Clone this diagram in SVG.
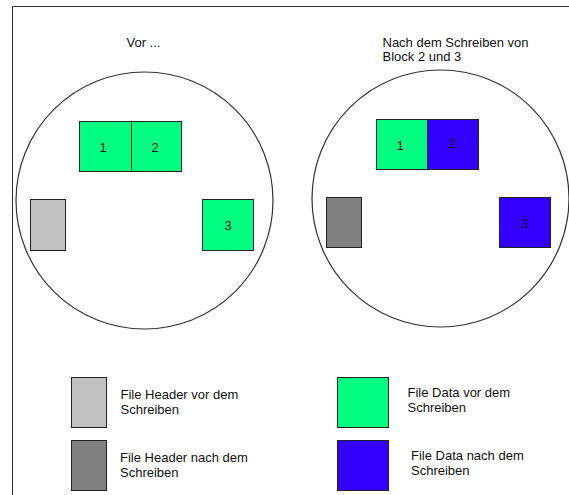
<svg xmlns="http://www.w3.org/2000/svg" width="569" height="495" viewBox="0 0 569 495">
<style>
text{font-family:"Liberation Sans",Arial,sans-serif;font-size:13px;fill:#111}
.num{text-anchor:middle}
.disk{fill:none;stroke:#333;stroke-width:1.2}
.blk{stroke:#222;stroke-width:1}
.g{fill:#00FF80}
.b{fill:#3300FF}
.lg{fill:#C0C0C0}
.dg{fill:#808080}
</style>
<rect width="569" height="495" fill="#fff"/>
<path d="M12.5,495 V6.5 H569" fill="none" stroke="#333" stroke-width="1"/>
<g id="before">
<text x="126.5" y="47">Vor ...</text>
<circle class="disk" cx="144.5" cy="200.5" r="128.5"/>
<g id="before-block1"><rect class="blk g" x="79.5" y="121.5" width="52" height="50"/><text class="num" x="103" y="152">1</text></g>
<g id="before-block2"><rect class="blk g" x="131.5" y="121.5" width="50" height="50"/><text class="num" x="155" y="152">2</text></g>
<g id="before-header"><rect class="blk lg" x="30.5" y="199.5" width="35" height="51"/></g>
<g id="before-block3"><rect class="blk g" x="202.5" y="199.5" width="51" height="51"/><text class="num" x="228" y="230">3</text></g>
</g>
<g id="after">
<text x="382.5" y="47">Nach dem Schreiben von</text>
<text x="382.5" y="61">Block 2 und 3</text>
<circle class="disk" cx="440.5" cy="198.5" r="128.5"/>
<g id="after-block1"><rect class="blk g" x="376.5" y="119.5" width="51" height="50"/><text class="num" x="400" y="150">1</text></g>
<g id="after-block2"><rect class="blk b" x="427.5" y="119.5" width="51" height="50"/><text class="num" x="452" y="148">2</text></g>
<g id="after-header"><rect class="blk dg" x="326.5" y="197.5" width="35" height="50"/></g>
<g id="after-block3"><rect class="blk b" x="499.5" y="197.5" width="51" height="50"/><text class="num" x="524.5" y="228">3</text></g>
</g>
<g id="legend">
<g id="legend-header-before"><rect class="blk lg" x="71.5" y="377.5" width="35" height="50"/><text x="120.5" y="399">File Header vor dem</text><text x="120.5" y="414">Schreiben</text></g>
<g id="legend-header-after"><rect class="blk dg" x="71.5" y="440.5" width="35" height="50"/><text x="120" y="462">File Header nach dem</text><text x="120" y="477">Schreiben</text></g>
<g id="legend-data-before"><rect class="blk g" x="337.5" y="377.5" width="51" height="50"/><text x="407.5" y="397">File Data vor dem</text><text x="407.5" y="412">Schreiben</text></g>
<g id="legend-data-after"><rect class="blk b" x="337.5" y="440.5" width="51" height="50"/><text x="411" y="460">File Data nach dem</text><text x="411" y="475">Schreiben</text></g>
</g>
</svg>
